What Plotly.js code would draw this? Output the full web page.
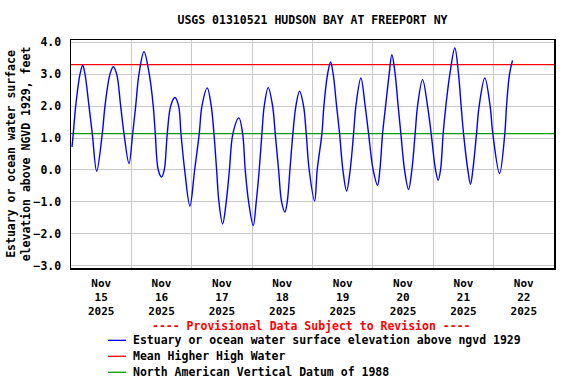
<!DOCTYPE html>
<html>
<head>
<meta charset="utf-8">
<script src="https://cdn.plot.ly/plotly-3.0.1.min.js"></script>
<style>html,body{margin:0;padding:0;background:#fff;}#chart{width:576px;height:384px;}</style>
</head>
<body>
<div id="chart"></div>
<script>
// Water surface elevation (ft above NGVD 1929).
// Times are hours after 2025-11-15 00:00.
const baseDate = "2025-11-15";
const hours = [
  0.40, 0.91, 1.87, 3.58, 4.65, 5.56, 7.15, 8.46, 10.21,
  12.44, 13.51, 15.50, 16.81, 18.16, 19.75, 21.06, 23.05, 24.52,
  25.71, 27.02, 29.01, 31.11, 32.70, 33.50, 34.69, 36.04, 37.07, 38.27,
  39.62, 41.32, 42.79, 43.71, 45.18, 47.28, 49.15, 50.98,
  52.05, 54.16, 55.75, 56.82, 57.89, 58.81, 60.28, 61.71, 62.98, 64.37,
  66.75, 68.23, 69.26, 70.61, 72.44, 73.63, 74.82, 75.89, 76.81, 78.40,
  80.15, 81.18, 82.53, 83.72, 85.03, 85.95, 87.02, 88.21, 89.40, 90.87,
  92.46, 93.50, 94.69, 96.84, 97.87, 99.74, 100.53, 102.00, 103.19, 104.23,
  105.58, 106.77, 108.08, 109.55, 110.98, 112.33, 113.25, 115.23, 116.94, 118.29,
  120.12, 121.87, 122.78, 123.86, 125.05, 126.48, 127.55, 128.86, 130.05, 131.13,
  132.60, 134.19, 135.50, 136.81, 137.76, 139.75, 141.74, 143.17, 144.92, 145.95,
  146.90, 147.94, 149.01, 150.60, 152.58, 154.05, 155.09, 156.04, 157.75, 158.82,
  159.74, 161.21, 162.24, 164.50, 166.61, 167.68, 170.35, 172.45,
  173.13, 174.32, 175.51
];
const elevation = [
  0.72, 1.14, 2.00, 3.00, 3.28, 3.00, 2.00, 1.14, -0.04,
  1.14, 2.00, 3.00, 3.23, 3.00, 2.00, 1.14, 0.20, 1.14,
  2.00, 3.00, 3.70, 3.00, 2.00, 1.14, 0.00, -0.22, 0.00, 1.14,
  2.00, 2.27, 2.00, 1.14, 0.00, -1.13, 0.00, 1.14,
  2.00, 2.57, 2.00, 1.14, 0.00, -1.00, -1.69, -1.00, 0.00, 1.14,
  1.63, 1.14, 0.00, -1.00, -1.74, -1.00, 0.00, 1.14, 2.00, 2.58,
  2.00, 1.14, 0.00, -1.00, -1.32, -1.00, 0.00, 1.14, 2.00, 2.47,
  2.00, 1.14, 0.00, -0.97, 0.00, 1.14, 2.00, 3.00, 3.38, 3.00,
  2.00, 1.14, 0.00, -0.66, 0.00, 1.14, 2.00, 2.88, 2.00, 1.14,
  0.00, -0.48, 0.00, 1.14, 2.00, 3.00, 3.61, 3.00, 2.00, 1.14,
  0.00, -0.61, 0.00, 1.14, 2.00, 2.83, 2.00, 1.14, 0.00, -0.32,
  0.00, 1.14, 2.00, 3.00, 3.82, 3.00, 2.00, 1.14, 0.00, -0.45,
  0.00, 1.14, 2.00, 2.88, 2.00, 1.14, -0.11, 1.14,
  2.00, 3.00, 3.43
];
const mhhwValue = 3.30;   // Mean Higher High Water
const navd88Value = 1.14; // North American Vertical Datum of 1988
const xStart = "2025-11-15 00:00";
const xEnd = "2025-11-23 00:00";
const tickDays = ["2025-11-15 12:00","2025-11-16 12:00","2025-11-17 12:00","2025-11-18 12:00",
                  "2025-11-19 12:00","2025-11-20 12:00","2025-11-21 12:00","2025-11-22 12:00"];
const tickLabels = ["Nov<br>15<br>2025","Nov<br>16<br>2025","Nov<br>17<br>2025","Nov<br>18<br>2025",
                    "Nov<br>19<br>2025","Nov<br>20<br>2025","Nov<br>21<br>2025","Nov<br>22<br>2025"];
const legendNames = ["Estuary or ocean water surface elevation above ngvd 1929",
                     "Mean Higher High Water",
                     "North American Vertical Datum of 1988"];
const legendColors = ["#0000ff","#ff0000","#00a000"];

// hours -> ms timestamps (plotly treats dates as UTC-like)
const baseMs = Date.parse(baseDate + "T00:00:00Z");
const times = hours.map(h => baseMs + h * 3600000);

const FONT = "DejaVu Sans Mono, monospace";
const FS = 11.5;

const traces = [
  {x: [xStart, xEnd], y: [navd88Value, navd88Value], mode: "lines", line: {color: legendColors[2], width: 1.3}, name: legendNames[2], hoverinfo: "skip"},
  {x: [xStart, xEnd], y: [mhhwValue, mhhwValue], mode: "lines", line: {color: legendColors[1], width: 1.3}, name: legendNames[1], hoverinfo: "skip"},
  {x: times, y: elevation, mode: "lines", line: {color: legendColors[0], width: 1.4, shape: "spline", smoothing: 1}, name: legendNames[0]}
];

// manual legend (paper coordinates)
const plotL = 71, plotR = 554, plotT = 39.5, plotB = 268;
const pw = plotR - plotL, ph = plotB - plotT;
const px = v => (v - plotL) / pw;
const py = v => (plotB - v) / ph;
const legendRows = [340.5, 356.5, 372.5];
const shapes = legendRows.map((r, i) => ({
  type: "line", xref: "paper", yref: "paper", x0: px(108), x1: px(126), y0: py(r), y1: py(r),
  line: {color: legendColors[i], width: 1.3}
}));
const annotations = legendRows.map((r, i) => ({
  xref: "paper", yref: "paper", x: px(131), y: py(r), xanchor: "left", yanchor: "middle",
  text: "<b>" + legendNames[i] + "</b>", showarrow: false, font: {family: FONT, size: FS, color: "#000"}
}));
annotations.push({
  xref: "paper", yref: "paper", x: px(311.5), y: py(326.5), xanchor: "center", yanchor: "middle",
  text: "<b>---- Provisional Data Subject to Revision ----</b>", showarrow: false,
  font: {family: FONT, size: FS, color: "#ff0000"}
});

const layout = {
  width: 576, height: 384,
  margin: {l: plotL, r: 576 - plotR, t: plotT, b: 384 - plotB, pad: 0},
  paper_bgcolor: "#ffffff", plot_bgcolor: "#ffffff",
  showlegend: false,
  font: {family: FONT, size: FS, color: "#000"},
  title: {text: "<b>USGS 01310521 HUDSON BAY AT FREEPORT NY</b>", x: 0.5, xref: "paper", y: 1 - 20/384, yref: "container", yanchor: "middle", xanchor: "center",
          font: {family: FONT, size: FS, color: "#000"}},
  xaxis: {
    type: "date", range: [xStart, xEnd],
    tickmode: "array", tickvals: tickDays, ticktext: tickLabels.map(t => "<b>" + t + "</b>"),
    showgrid: false, ticks: "", ticklabelstandoff: 4,
    tickfont: {family: FONT, size: 11, color: "#000"},
    minor: {tickmode: "linear", tick0: xStart, dtick: 86400000, showgrid: true, gridcolor: "#c8c8c8", gridwidth: 1, ticks: ""},
    showline: true, mirror: true, linecolor: "#000", linewidth: 1.5, zeroline: false, automargin: false
  },
  yaxis: {
    range: [-3.07, 4.07], dtick: 1, tick0: 0, tickformat: ".1f",
    showgrid: true, gridcolor: "#c8c8c8", gridwidth: 1, ticks: "", ticklabelstandoff: 6,
    tickfont: {family: FONT, size: FS, color: "#000"},
    tickprefix: "<b>", ticksuffix: "</b>",
    showline: true, mirror: true, linecolor: "#000", linewidth: 1.5, zeroline: false,
    automargin: "top",
    title: {text: "<b>Estuary or ocean water surface<br>elevation above NGVD 1929, feet</b>", standoff: 0,
            font: {family: FONT, size: FS, color: "#000"}}
  },
  shapes: shapes,
  annotations: annotations
};

Plotly.newPlot("chart", traces, layout, {displayModeBar: false, staticPlot: true});
</script>
</body>
</html>
